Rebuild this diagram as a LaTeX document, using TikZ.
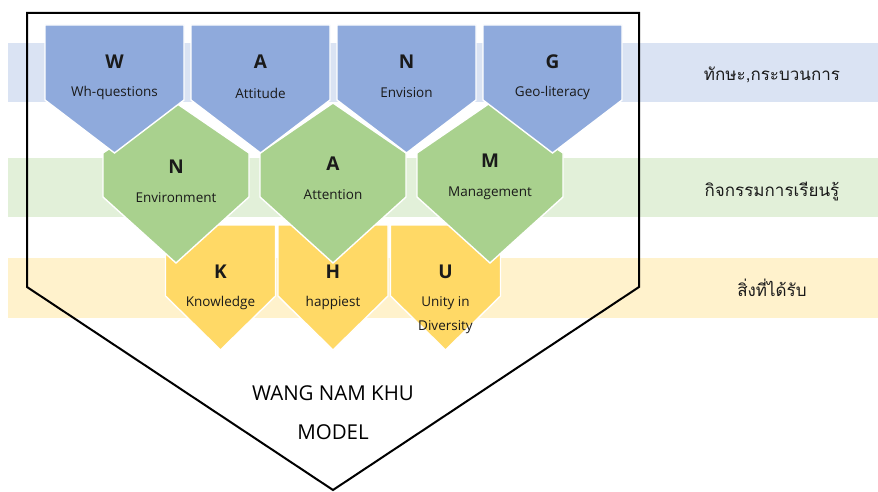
\documentclass[tikz,border=0pt]{standalone}
\usepackage{fontspec}
\setmainfont{Open Sans}
\newfontfamily\thaifont[Script=Thai]{Loma}
\definecolor{bandblue}{HTML}{DAE3F3}
\definecolor{bandgreen}{HTML}{E2F0D9}
\definecolor{bandyellow}{HTML}{FFF2CC}
\definecolor{cblue}{HTML}{8FAADC}
\definecolor{cgreen}{HTML}{A9D18E}
\definecolor{cyellow}{HTML}{FFD966}
\definecolor{txt}{HTML}{1A1A1A}
\tikzset{
  cell/.style={draw=white, line width=1.4pt, line join=miter},
  big/.style={font=\fontsize{19}{21}\selectfont\bfseries, text=txt, inner sep=0pt},
  small/.style={font=\fontsize{13.5}{15}\selectfont, text=txt, inner sep=0pt},
  thai/.style={font=\thaifont\fontsize{17}{20}\selectfont, text=txt, inner sep=0pt},
  model/.style={font=\fontsize{20.5}{22}\selectfont, text=black, inner sep=0pt},
}
\begin{document}
\begin{tikzpicture}[x=1pt,y=-1pt]
\useasboundingbox (0,0) rectangle (878,492);
% bands
\fill[bandblue] (8,43) rectangle (878,102);
\fill[bandgreen] (8,158) rectangle (878,217);
\fill[bandyellow] (8,258) rectangle (878,318);
% yellow cells
\foreach \c in {220.5,333,445.5}{
  \filldraw[cell, fill=cyellow] (\c-55,225) -- (\c+55,225) -- (\c+55,296) -- (\c,350) -- (\c-55,296) -- cycle;
}
% green cells
\foreach \c in {176,333,490}{
  \filldraw[cell, fill=cgreen] (\c,103) -- (\c+73,153) -- (\c+73,197) -- (\c,263) -- (\c-73,197) -- (\c-73,153) -- cycle;
}
% blue cells
\foreach \c in {114.5,260.5,406.5,552.5}{
  \filldraw[cell, fill=cblue] (\c-69.5,25) -- (\c+69.5,25) -- (\c+69.5,100) -- (\c,153) -- (\c-69.5,100) -- cycle;
}
% outline
\draw[line width=2pt, line join=miter] (27,13) -- (639,13) -- (639,287) -- (333,490) -- (27,287) -- cycle;
% blue texts
\node[big] (w) at (114.5,62) {W};
\node[small] (wt) at (114.5,93) {Wh-questions};
\node[big] (a1) at (260.5,62) {A};
\node[small] (a1t) at (260.5,93) {Attitude};
\node[big] (n1) at (406.5,62) {N};
\node[small] (n1t) at (406.5,93) {Envision};
\node[big] (g) at (552.5,62) {G};
\node[small] (gt) at (552.5,93) {Geo-literacy};
% green texts
\node[big] (n2) at (176,167) {N};
\node[small] (n2t) at (176,198) {Environment};
\node[big] (a2) at (333,164) {A};
\node[small] (a2t) at (333,195) {Attention};
\node[big] (m) at (490,161) {M};
\node[small] (mt) at (490,193) {Management};
% yellow texts
\node[big] (k) at (220.5,272) {K};
\node[small] (kt) at (220.5,303) {Knowledge};
\node[big] (h) at (333,272) {H};
\node[small] (ht) at (333,303) {happiest};
\node[big] (u) at (445.5,272) {U};
\node[small] (ut) at (445.5,303) {Unity in};
\node[small] (ut2) at (445.5,327) {Diversity};
% model title
\node[model] (t1) at (333,393) {WANG NAM KHU};
\node[model] (t2) at (333,432) {MODEL};
% thai labels
\node[thai] (l1) at (772,75) {ทักษะ,กระบวนการ};
\node[thai] (l2) at (772,192) {กิจกรรมการเรียนรู้};
\node[thai] (l3) at (772,288) {สิ่งที่ได้รับ};
\end{tikzpicture}
\end{document}
